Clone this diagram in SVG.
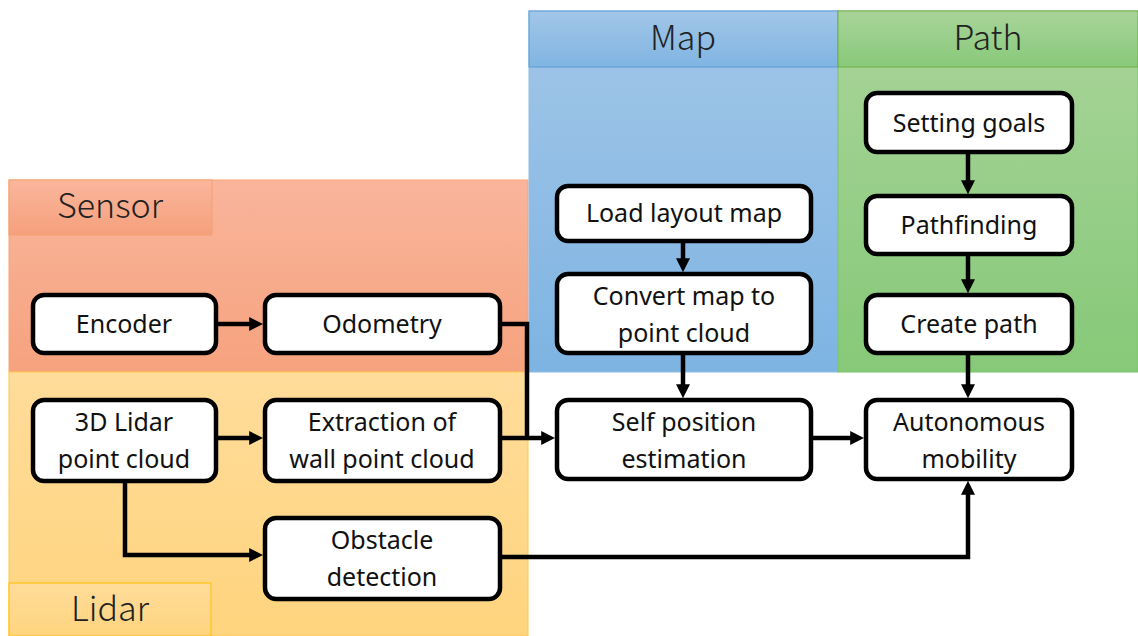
<svg xmlns="http://www.w3.org/2000/svg" width="1138" height="636" viewBox="0 0 1138 636">
<defs>
<linearGradient id="gSensor" x1="0" y1="0" x2="0" y2="1"><stop offset="0" stop-color="#F9B59B"/><stop offset="1" stop-color="#F6A27E"/></linearGradient>
<linearGradient id="gSensorL" x1="0" y1="0" x2="0" y2="1"><stop offset="0" stop-color="#FAB69C"/><stop offset="1" stop-color="#F5A07C"/></linearGradient>
<linearGradient id="gLidar" x1="0" y1="0" x2="0" y2="1"><stop offset="0" stop-color="#FFDC9A"/><stop offset="1" stop-color="#FFD47E"/></linearGradient>
<linearGradient id="gMap" x1="0" y1="0" x2="0" y2="1"><stop offset="0" stop-color="#A2C6E8"/><stop offset="1" stop-color="#7EB4E2"/></linearGradient>
<linearGradient id="gMapH" x1="0" y1="0" x2="0" y2="1"><stop offset="0" stop-color="#A2C6E8"/><stop offset="1" stop-color="#80B5E2"/></linearGradient>
<linearGradient id="gPath" x1="0" y1="0" x2="0" y2="1"><stop offset="0" stop-color="#A9D49A"/><stop offset="1" stop-color="#86C978"/></linearGradient>
<linearGradient id="gPathH" x1="0" y1="0" x2="0" y2="1"><stop offset="0" stop-color="#A9D49A"/><stop offset="1" stop-color="#88C97A"/></linearGradient>
<marker id="ah" viewBox="0 0 10 10" refX="2" refY="5" markerWidth="14" markerHeight="14" markerUnits="userSpaceOnUse" orient="auto"><path d="M0,0 L10,5 L0,10 Z" fill="#000"/></marker>
</defs>
<style>
.node rect{fill:#fff;stroke:#000;stroke-width:4.5}
.node text{font-family:"Noto Sans","Open Sans","DejaVu Sans",sans-serif;font-size:25px;fill:#111;text-anchor:middle}
.hdr{font-family:"Noto Sans CJK JP","Noto Sans",sans-serif;font-weight:300;font-size:34px;fill:#222;text-anchor:middle}
.conn path{fill:none;stroke:#000;stroke-width:4.5}
</style>
<rect width="1138" height="636" fill="#fff"/>
<g id="panels">
<rect x="9" y="180" width="519" height="192" fill="url(#gSensor)" stroke="#F8A377" stroke-width="1"/>
<rect x="9" y="372" width="519" height="264" fill="url(#gLidar)" stroke="#FFC84A" stroke-width="1"/>
<rect x="529" y="11" width="309" height="361" fill="url(#gMap)" stroke="#8DBDE6" stroke-width="1"/>
<rect x="838" y="11" width="300" height="361" fill="url(#gPath)" stroke="#7FC46B" stroke-width="1"/>
<rect x="529" y="11" width="309" height="56" fill="url(#gMapH)" stroke="#5B9BD5" stroke-width="1"/>
<rect x="838" y="11" width="300" height="56" fill="url(#gPathH)" stroke="#70AD47" stroke-width="1"/>
<rect x="9" y="180" width="203" height="55" fill="url(#gSensorL)" stroke="#F4A070" stroke-width="1"/>
<rect x="9" y="583" width="202" height="53" fill="url(#gLidar)" stroke="#FFC000" stroke-width="1"/>
<text class="hdr" x="683" y="50">Map</text>
<text class="hdr" x="988" y="50">Path</text>
<text class="hdr" x="110" y="218">Sensor</text>
<text class="hdr" x="110" y="621">Lidar</text>
</g>
<g id="connectors" class="conn">
<path d="M218,324 H252" marker-end="url(#ah)"/>
<path d="M218,438 H252" marker-end="url(#ah)"/>
<path d="M502,324 H527 V438"/>
<path d="M502,438 H544" marker-end="url(#ah)"/>
<path d="M125,483 V555 H252" marker-end="url(#ah)"/>
<path d="M502,557 H968 V492" marker-end="url(#ah)"/>
<path d="M683,243 V261" marker-end="url(#ah)"/>
<path d="M683,355 V387" marker-end="url(#ah)"/>
<path d="M813,438 H853" marker-end="url(#ah)"/>
<path d="M968,154 V183" marker-end="url(#ah)"/>
<path d="M968,256 V282" marker-end="url(#ah)"/>
<path d="M968,355 V387" marker-end="url(#ah)"/>
</g>
<g id="encoder" class="node"><rect x="33" y="295" width="183" height="58" rx="11"/><text x="124" y="333">Encoder</text></g>
<g id="odometry" class="node"><rect x="265" y="295" width="235" height="58" rx="11"/><text x="382" y="333">Odometry</text></g>
<g id="lidar3d" class="node"><rect x="33" y="400" width="183" height="81" rx="11"/><text x="124" y="431">3D Lidar</text><text x="124" y="468">point cloud</text></g>
<g id="extraction" class="node"><rect x="265" y="400" width="235" height="81" rx="11"/><text x="382" y="431">Extraction of</text><text x="382" y="468">wall point cloud</text></g>
<g id="obstacle" class="node"><rect x="265" y="518" width="235" height="81" rx="11"/><text x="382" y="549">Obstacle</text><text x="382" y="586">detection</text></g>
<g id="loadmap" class="node"><rect x="557" y="186" width="254" height="55" rx="11"/><text x="684" y="222">Load layout map</text></g>
<g id="convert" class="node"><rect x="557" y="274" width="254" height="79" rx="11"/><text x="684" y="305">Convert map to</text><text x="684" y="342">point cloud</text></g>
<g id="selfpos" class="node"><rect x="557" y="400" width="254" height="79" rx="11"/><text x="684" y="431">Self position</text><text x="684" y="468">estimation</text></g>
<g id="goals" class="node"><rect x="866" y="93" width="206" height="59" rx="11"/><text x="969" y="132">Setting goals</text></g>
<g id="pathfinding" class="node"><rect x="866" y="196" width="206" height="58" rx="11"/><text x="969" y="234">Pathfinding</text></g>
<g id="createpath" class="node"><rect x="866" y="295" width="206" height="58" rx="11"/><text x="969" y="333">Create path</text></g>
<g id="autonomous" class="node"><rect x="866" y="400" width="206" height="79" rx="11"/><text x="969" y="431">Autonomous</text><text x="969" y="468">mobility</text></g>
</svg>
